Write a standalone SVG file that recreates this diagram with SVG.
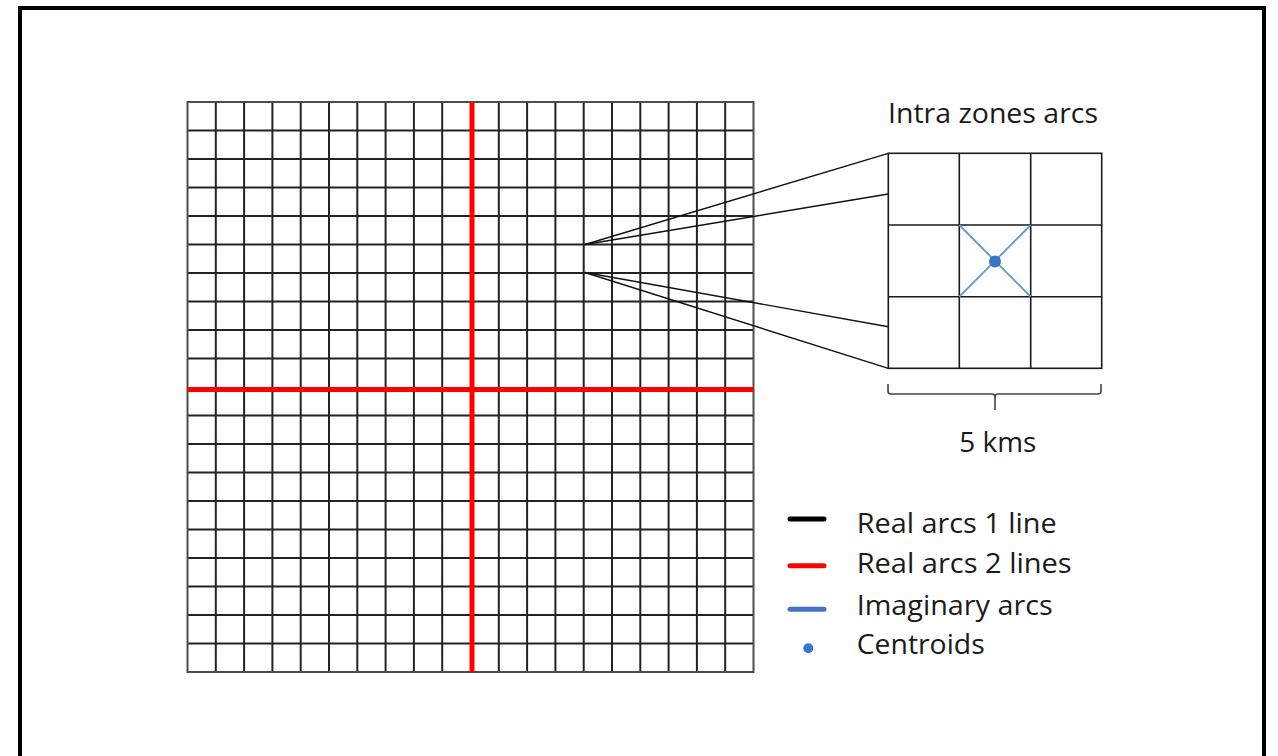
<svg xmlns="http://www.w3.org/2000/svg" width="1278" height="756" viewBox="0 0 1278 756">
<style>
  .g{stroke:#1e261e;stroke-width:2;fill:none}
  .red{stroke:#ff0000;stroke-width:5;fill:none}
  .zb{stroke:#1a1a1a;stroke-width:1.6;fill:none}
  .con{stroke:#111;stroke-width:1.4;fill:none}
  .imag{stroke:#5b9bd5;stroke-width:1.8;fill:none}
  .t{font-family:"Open Sans","Noto Sans","Liberation Sans",sans-serif;font-size:27px;fill:#1a1a1a}
  .leg{stroke-width:5;stroke-linecap:round;fill:none}
</style>
<rect x="0" y="0" width="1278" height="756" fill="#ffffff"/>
<path d="M20,756 V8 H1264 V756" fill="none" stroke="#000" stroke-width="4"/>

<g id="grid">
  <g class="g">
    <path d="M215.8,102V672 M244.1,102V672 M272.4,102V672 M300.7,102V672 M329,102V672 M357.3,102V672 M385.6,102V672 M413.9,102V672 M442.2,102V672 M498.8,102V672 M527.1,102V672 M555.4,102V672 M583.7,102V672 M612,102V672 M640.3,102V672 M668.6,102V672 M696.9,102V672 M725.2,102V672"/>
    <path d="M187.5,130.5H753.5 M187.5,159H753.5 M187.5,187.5H753.5 M187.5,216H753.5 M187.5,244.5H753.5 M187.5,273H753.5 M187.5,301.5H753.5 M187.5,330H753.5 M187.5,358.5H753.5 M187.5,415.5H753.5 M187.5,444H753.5 M187.5,472.5H753.5 M187.5,501H753.5 M187.5,529.5H753.5 M187.5,558H753.5 M187.5,586.5H753.5 M187.5,615H753.5 M187.5,643.5H753.5"/>
    <rect x="187.5" y="102" width="566" height="570" stroke="#4a4f4a"/>
  </g>
  <g class="red">
    <line x1="472" y1="102" x2="472" y2="672"/>
    <line x1="187.5" y1="389.5" x2="753.5" y2="389.5"/>
  </g>
</g>

<g id="connectors" class="con">
  <line x1="585" y1="244.5" x2="888.3" y2="153.3"/>
  <line x1="585" y1="244.5" x2="888.3" y2="194"/>
  <line x1="585" y1="272.5" x2="888.3" y2="326.7"/>
  <line x1="585" y1="272.5" x2="888.3" y2="368.3"/>
</g>

<g id="zoom-box">
  <rect class="zb" x="888.3" y="153.3" width="213.4" height="215"/>
  <path class="zb" d="M959.3,153.3V368.3 M1030.7,153.3V368.3 M888.3,225H1101.7 M888.3,296.7H1101.7"/>
  <path class="imag" d="M959.3,225 L1030.7,296.7 M1030.7,225 L959.3,296.7"/>
  <circle cx="995" cy="261.5" r="6" fill="#3a74c6"/>
  <text class="t" x="888" y="123.3" textLength="210" lengthAdjust="spacingAndGlyphs">Intra zones arcs</text>
</g>

<g id="scale">
  <path d="M888,384 V391 Q888,394 891,394 H992 Q995,394 995,397 V410 M995,397 Q995,394 998,394 H1098 Q1101,394 1101,391 V384" fill="none" stroke="#444" stroke-width="1.6"/>
  <text class="t" x="959.3" y="451.7" textLength="77" lengthAdjust="spacingAndGlyphs">5 kms</text>
</g>

<g id="legend">
  <line class="leg" x1="790" y1="519" x2="824" y2="519" stroke="#000"/>
  <line class="leg" x1="790" y1="565.7" x2="824" y2="565.7" stroke="#ff0000"/>
  <line class="leg" x1="790" y1="609.3" x2="824" y2="609.3" stroke="#4472c4"/>
  <circle cx="808.3" cy="648.3" r="5" fill="#3a78d0"/>
  <text class="t" x="856.7" y="532.5" textLength="200" lengthAdjust="spacingAndGlyphs">Real arcs 1 line</text>
  <text class="t" x="856.7" y="573.3" textLength="215" lengthAdjust="spacingAndGlyphs">Real arcs 2 lines</text>
  <text class="t" x="856.7" y="614.5" textLength="196" lengthAdjust="spacingAndGlyphs">Imaginary arcs</text>
  <text class="t" x="856.7" y="654.3" textLength="128" lengthAdjust="spacingAndGlyphs">Centroids</text>
</g>
</svg>
